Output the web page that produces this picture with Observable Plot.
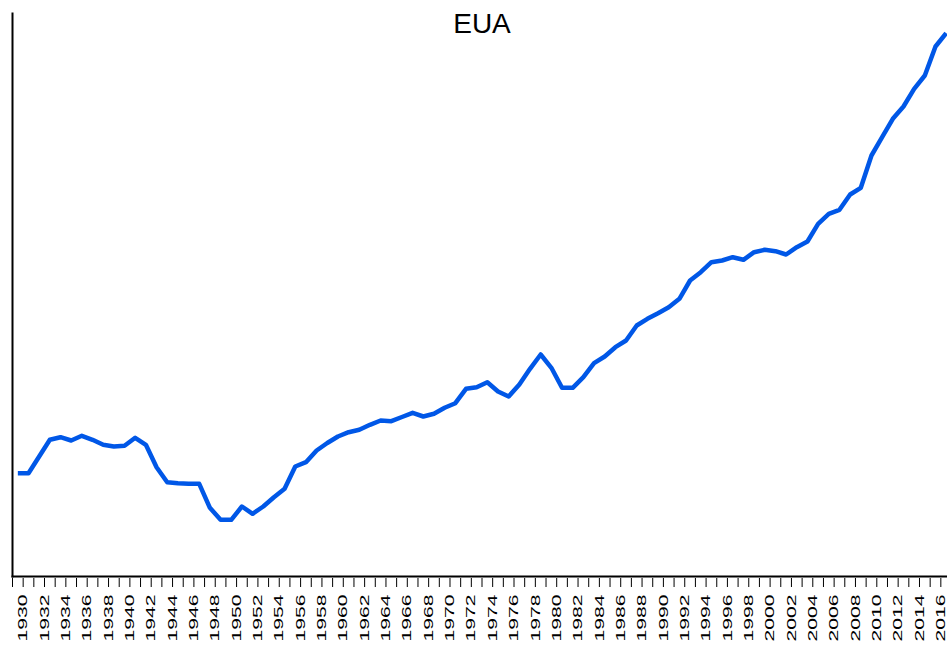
<!DOCTYPE html>
<html>
<head>
<meta charset="utf-8">
<script src="https://cdn.jsdelivr.net/npm/d3@7"></script>
<script src="https://cdn.jsdelivr.net/npm/@observablehq/plot@0.6"></script>
<style>
  html, body { margin: 0; padding: 0; background: #fff; }
</style>
</head>
<body>
<div id="chart"></div>
<script>
const title = "EUA";

const years = [
  1930,1931,1932,1933,1934,1935,1936,1937,1938,1939,
  1940,1941,1942,1943,1944,1945,1946,1947,1948,1949,
  1950,1951,1952,1953,1954,1955,1956,1957,1958,1959,
  1960,1961,1962,1963,1964,1965,1966,1967,1968,1969,
  1970,1971,1972,1973,1974,1975,1976,1977,1978,1979,
  1980,1981,1982,1983,1984,1985,1986,1987,1988,1989,
  1990,1991,1992,1993,1994,1995,1996,1997,1998,1999,
  2000,2001,2002,2003,2004,2005,2006,2007,2008,2009,
  2010,2011,2012,2013,2014,2015,2016,2017
];

const values = [
  103.3,103.3,120.0,136.7,139.3,136.0,140.7,136.7,131.7,130.0,
  130.7,138.7,131.7,109.3, 94.3, 93.3, 92.7, 92.7, 68.7, 56.7,
   56.7, 70.0, 62.7, 70.0, 79.3, 87.7,110.0,114.3,126.0,133.5,
  140.0,144.3,146.7,151.7,156.0,155.3,159.5,163.7,160.0,162.7,
  168.7,173.3,187.7,189.3,194.3,185.0,180.0,192.0,207.7,222.0,
  208.7,188.7,188.7,199.3,213.3,220.0,229.3,236.0,251.0,257.7,
  263.3,269.3,277.7,296.0,304.3,314.3,316.0,319.3,316.7,324.3,
  326.7,325.3,322.0,329.3,335.0,352.7,362.7,366.7,382.0,388.7,
  421.0,439.3,457.7,470.0,487.7,501.0,530.0,543.3
];

// tick labels shown every two years
const tickLabels = d3.range(1930, 2017, 2);
// tick marks sit between consecutive years
const tickPositions = d3.range(1929, 2017).map(y => y + 0.5);

const data = years.map((year, i) => ({year, value: values[i]}));

const chart = Plot.plot({
  width: 947,
  height: 645,
  marginTop: 13,
  marginBottom: 69,
  marginLeft: 12,
  marginRight: -4,
  x: {domain: [1929.5, 2017.5], axis: null},
  y: {domain: [0, 563], axis: null},
  style: {fontFamily: "'Liberation Sans', Arial, sans-serif", background: "white", color: "black"},
  marks: [
    Plot.axisX({
      ticks: tickPositions,
      tickSize: 9,
      tickPadding: 7,
      dy: 2,
      tickRotate: -90,
      fontSize: 13,
      stroke: "black",
      fill: "black",
      label: null,
      tickFormat: d => tickLabels.includes(Math.floor(d)) ? String(Math.floor(d)) : ""
    }),
    Plot.frame({anchor: "left", stroke: "black", strokeWidth: 2}),
    Plot.frame({anchor: "bottom", stroke: "black", strokeWidth: 2}),
    Plot.lineY(data, {
      x: "year", y: "value",
      stroke: "#0057e7", strokeWidth: 4.5,
      strokeLinejoin: "round", strokeLinecap: "butt"
    }),
    Plot.text([title], {
      frameAnchor: "top", lineAnchor: "top",
      fontSize: 28, fill: "black"
    })
  ]
});

document.getElementById("chart").appendChild(chart);

// stretch tick labels along their reading direction to match the reference's elongated digits
d3.select(chart).selectAll('g[aria-label="x-axis tick label"] text').each(function() {
  if (this.textContent) {
    const len = this.getComputedTextLength();
    if (len > 0) {
      const t = this.getAttribute("transform") || "";
      this.setAttribute("transform", `${t} scale(${47 / len},1)`);
    }
  }
});
</script>
</body>
</html>
